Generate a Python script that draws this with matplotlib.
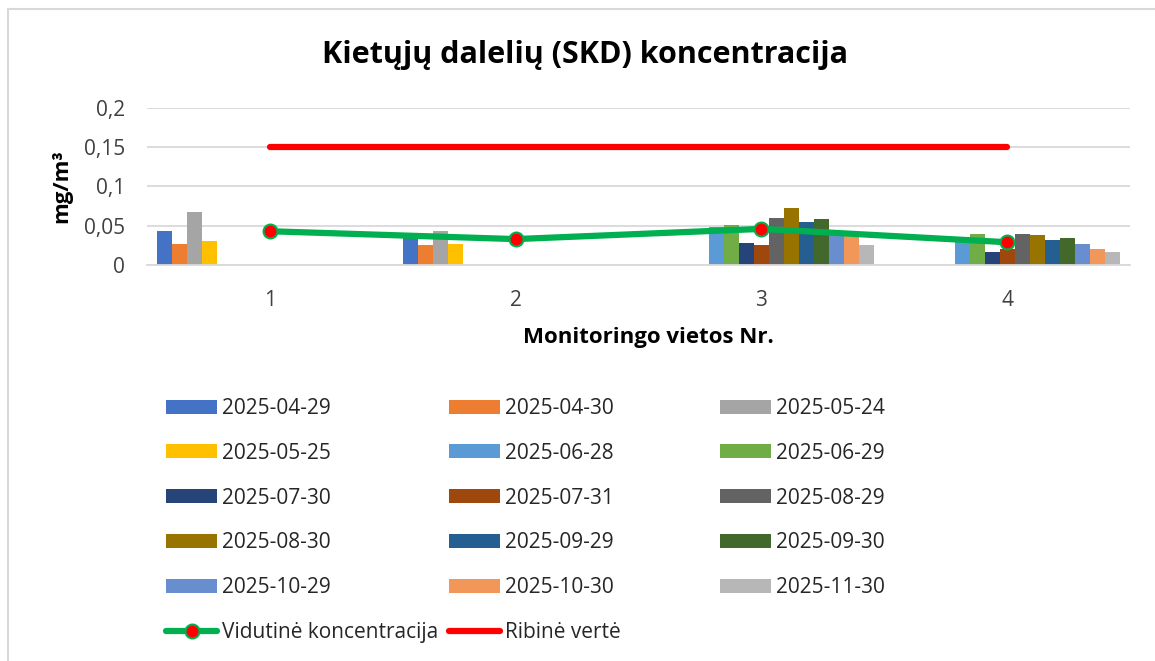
import numpy as np
import matplotlib.pyplot as plt
from matplotlib.lines import Line2D
from matplotlib.patches import Patch

plt.rcParams['font.family'] = ['Open Sans', 'DejaVu Sans']

categories = ['1', '2', '3', '4']
dates = ['2025-04-29', '2025-04-30', '2025-05-24', '2025-05-25', '2025-06-28',
         '2025-06-29', '2025-07-30', '2025-07-31', '2025-08-29', '2025-08-30',
         '2025-09-29', '2025-09-30', '2025-10-29', '2025-10-30', '2025-11-30']
colors = ['#4472C4', '#ED7D31', '#A5A5A5', '#FFC000', '#5B9BD5',
          '#70AD47', '#264478', '#9E480E', '#636363', '#997300',
          '#255E91', '#43682B', '#698ED0', '#F1975A', '#B7B7B7']

nan = np.nan
# one row per date, one column per monitoring site
values = np.array([
    [0.043, 0.037, nan, nan],
    [0.027, 0.025, nan, nan],
    [0.068, 0.043, nan, nan],
    [0.030, 0.027, nan, nan],
    [nan, nan, 0.049, 0.034],
    [nan, nan, 0.051, 0.039],
    [nan, nan, 0.028, 0.017],
    [nan, nan, 0.026, 0.020],
    [nan, nan, 0.060, 0.040],
    [nan, nan, 0.073, 0.038],
    [nan, nan, 0.055, 0.032],
    [nan, nan, 0.058, 0.035],
    [nan, nan, 0.042, 0.027],
    [nan, nan, 0.037, 0.020],
    [nan, nan, 0.025, 0.017],
])
average = [0.043, 0.033, 0.046, 0.029]
limit = [0.15, 0.15, 0.15, 0.15]

fig = plt.figure(figsize=(11.55, 6.61), dpi=100)
ax = fig.add_axes([147 / 1155, 1 - 265 / 661, 983 / 1155, 157 / 661])

x = np.arange(1, len(categories) + 1)
n = len(dates)
w = (225 / 245.75) / n
for i in range(n):
    ax.bar(x + (i - (n - 1) / 2) * w, values[i], width=w, color=colors[i],
           edgecolor='none', zorder=2)

avg_line, = ax.plot(x, average, color='#00B050', lw=4.5, marker='o', markersize=10,
                    markerfacecolor='#FF0000', markeredgecolor='#00B050',
                    markeredgewidth=1.5, zorder=4, solid_capstyle='round')
ax.plot(x, limit, color='#FF0000', lw=4.5, zorder=3, solid_capstyle='round')

ax.set_xlim(0.5, 4.5)
ax.set_ylim(0, 0.2)
ax.set_yticks([0, 0.05, 0.1, 0.15, 0.2])
ax.set_yticklabels(['0', '0,05', '0,1', '0,15', '0,2'])
ax.set_xticks(x)
ax.set_xticklabels(categories)
ax.tick_params(length=0, labelsize=15, colors='#404040')
ax.tick_params(axis='x', pad=18)
ax.tick_params(axis='y', pad=16)
ax.grid(axis='y', color='#D9D9D9', lw=1.3, zorder=0)
for s in ['top', 'right', 'left']:
    ax.spines[s].set_visible(False)
ax.spines['bottom'].set_color('#D9D9D9')
ax.spines['bottom'].set_linewidth(1.3)
ax.set_axisbelow(True)

fig.text(585 / 1155, 1 - 55 / 661, 'Kietųjų dalelių (SKD) koncentracija', ha='center',
         va='center', fontsize=22, fontweight='bold')
fig.text(62 / 1155, 1 - 186 / 661, 'mg/m³', ha='center', va='center', rotation=90,
         fontsize=16, fontweight='bold')
fig.text(648 / 1155, 1 - 337 / 661, 'Monitoringo vietos Nr.', ha='center', va='center',
         fontsize=16, fontweight='bold')

# Excel-style legend: rows filled left to right
handles = [Patch(facecolor=c, edgecolor='none') for c in colors]
handles += [avg_line, Line2D([], [], color='#FF0000', lw=4.5, solid_capstyle='round')]
labels = dates + ['Vidutinė koncentracija', 'Ribinė vertė']
col1 = list(range(0, 17, 3))
col2 = list(range(1, 17, 3))
col3 = list(range(2, 17, 3))

leg_kw = dict(frameon=False, fontsize=15, handlelength=2.45, handleheight=0.65,
              handletextpad=0.25, labelspacing=1.14, borderpad=0, borderaxespad=0,
              labelcolor='#262626')
fig.legend([handles[i] for i in col1 + col2], [labels[i] for i in col1 + col2],
           ncol=2, columnspacing=0.5, loc='upper left',
           bbox_to_anchor=(166 / 1155, 1 - 398 / 661), **leg_kw)
fig.legend([handles[i] for i in col3], [labels[i] for i in col3],
           ncol=1, loc='upper left',
           bbox_to_anchor=(720 / 1155, 1 - 398 / 661), **leg_kw)

# chart area border (left and top edges visible)
fig.add_artist(Line2D([8 / 1155, 8 / 1155], [0, 1 - 9 / 661], color='#D9D9D9', lw=1.5))
fig.add_artist(Line2D([8 / 1155, 1], [1 - 9 / 661, 1 - 9 / 661], color='#D9D9D9', lw=1.5))

fig.savefig('out.png', dpi=100, facecolor='white')
